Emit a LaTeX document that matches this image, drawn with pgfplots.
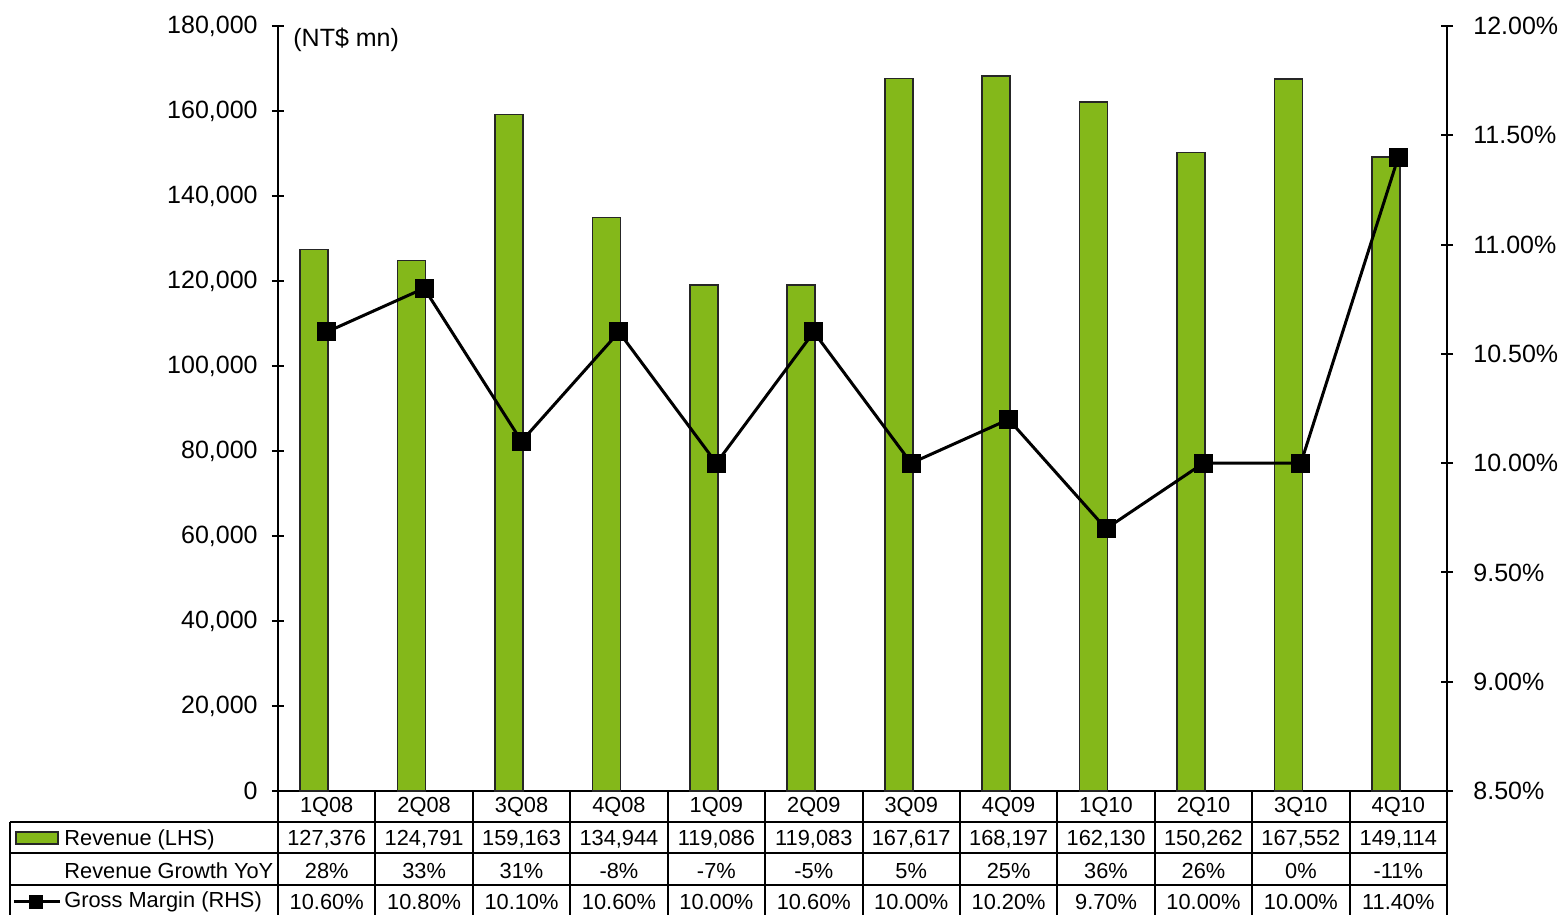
\documentclass[border=0pt]{standalone}
\usepackage{pgfplots}
\usepackage{pgfplotstable}
\pgfplotsset{compat=1.18}
\usepackage{fontspec}
\setmainfont{Liberation Sans}
\definecolor{revgreen}{HTML}{84B81A}

% quarter index, revenue (NT$ mn), gross margin (%)
\pgfplotstableread{
idx rev    gm
0   127376 10.60
1   124791 10.80
2   159163 10.10
3   134944 10.60
4   119086 10.00
5   119083 10.60
6   167617 10.00
7   168197 10.20
8   162130 9.70
9   150262 10.00
10  167552 10.00
11  149114 11.40
}\quarterly

\begin{document}
\begin{tikzpicture}
\useasboundingbox (-139pt,-62pt) rectangle (643pt,395.5pt);

\pgfplotsset{
  every axis/.append style={
    at={(0pt,0pt)}, anchor=south west,
    scale only axis, width=584.5pt, height=382.5pt,
    xmin=-0.5, xmax=11.5,
    font=\fontsize{12.5}{15}\selectfont,
    axis line style={-, line width=1pt},
    major tick length=6pt, tick align=center,
    every tick/.style={black, line width=1pt},
    /pgf/number format/assume math mode=true,
    tick label style={inner sep=0pt},
  }
}

% revenue bars, left axis
\begin{axis}[
  axis y line*=left, axis x line*=bottom,
  xtick=\empty,
  ymin=0, ymax=180000, ytick={0,20000,...,180000},
  scaled y ticks=false,
  yticklabel style={/pgf/number format/fixed, /pgf/number format/1000 sep={,}, xshift=-7pt},
  clip=false,
]
\addplot[ybar, bar width=14pt, bar shift=-6.25pt, fill=revgreen, draw=black!85, line width=0.8pt]
  table[x=idx, y=rev] {\quarterly};
\node[anchor=west, inner sep=0pt] at (rel axis cs:0,1) [xshift=7.5pt, yshift=-7pt] {(NT\$ mn)};
\end{axis}

% gross margin line, right axis
\begin{axis}[
  axis y line*=right, axis x line=none,
  ymin=8.5, ymax=12, ytick={8.5,9,...,12},
  yticklabel={\pgfmathprintnumber[fixed, fixed zerofill, precision=2]{\tick}\%},
  yticklabel style={xshift=10pt},
  clip=false,
]
\addplot[black, line width=1.5pt, mark=square*, mark size=4pt, mark options={solid}]
  table[x=idx, y=gm] {\quarterly};
\end{axis}

% data table under the chart
\begin{scope}[line width=1pt]
  \draw (-134pt,-15.5pt) -- (584.5pt,-15.5pt);
  \draw (-134pt,-31pt) -- (584.5pt,-31pt);
  \draw (-134pt,-47pt) -- (584.5pt,-47pt);
  \draw (-134pt,-15.5pt) -- (-134pt,-62pt);
  \foreach \k in {0,...,12} {
    \draw ({\k*48.7083pt},0pt) -- ({\k*48.7083pt},-62pt);
  }
\end{scope}

\begin{scope}[font=\fontsize{10.9}{13}\selectfont]
  \foreach \lab [count=\i from 0] in {1Q08,2Q08,3Q08,4Q08,1Q09,2Q09,3Q09,4Q09,1Q10,2Q10,3Q10,4Q10}
    \node at ({(\i+0.5)*48.7083pt},-8pt) {\lab};
  \foreach \v [count=\i from 0] in {127{,}376,124{,}791,159{,}163,134{,}944,119{,}086,119{,}083,167{,}617,168{,}197,162{,}130,150{,}262,167{,}552,149{,}114}
    \node at ({(\i+0.5)*48.7083pt},-24.25pt) {\v};
  \foreach \v [count=\i from 0] in {28\%,33\%,31\%,-8\%,-7\%,-5\%,5\%,25\%,36\%,26\%,0\%,-11\%}
    \node at ({(\i+0.5)*48.7083pt},-40pt) {\v};
  \foreach \v [count=\i from 0] in {10.60\%,10.80\%,10.10\%,10.60\%,10.00\%,10.60\%,10.00\%,10.20\%,9.70\%,10.00\%,10.00\%,11.40\%}
    \node at ({(\i+0.5)*48.7083pt},-55.5pt) {\v};

  \node[anchor=west, inner sep=0pt] at (-107pt,-24.25pt) {Revenue (LHS)};
  \node[anchor=west, inner sep=0pt] at (-107pt,-40pt) {Revenue Growth YoY};
  \node[anchor=west, inner sep=0pt] at (-107pt,-55.5pt) {Gross Margin (RHS)};
\end{scope}

% row keys
\draw[fill=revgreen, draw=black!85, line width=0.8pt] (-131pt,-20.5pt) rectangle (-110pt,-26.5pt);
\draw[line width=1.5pt] (-132pt,-55.5pt) -- (-109pt,-55.5pt);
\fill (-124.5pt,-59pt) rectangle (-117.5pt,-52pt);
\end{tikzpicture}
\end{document}
